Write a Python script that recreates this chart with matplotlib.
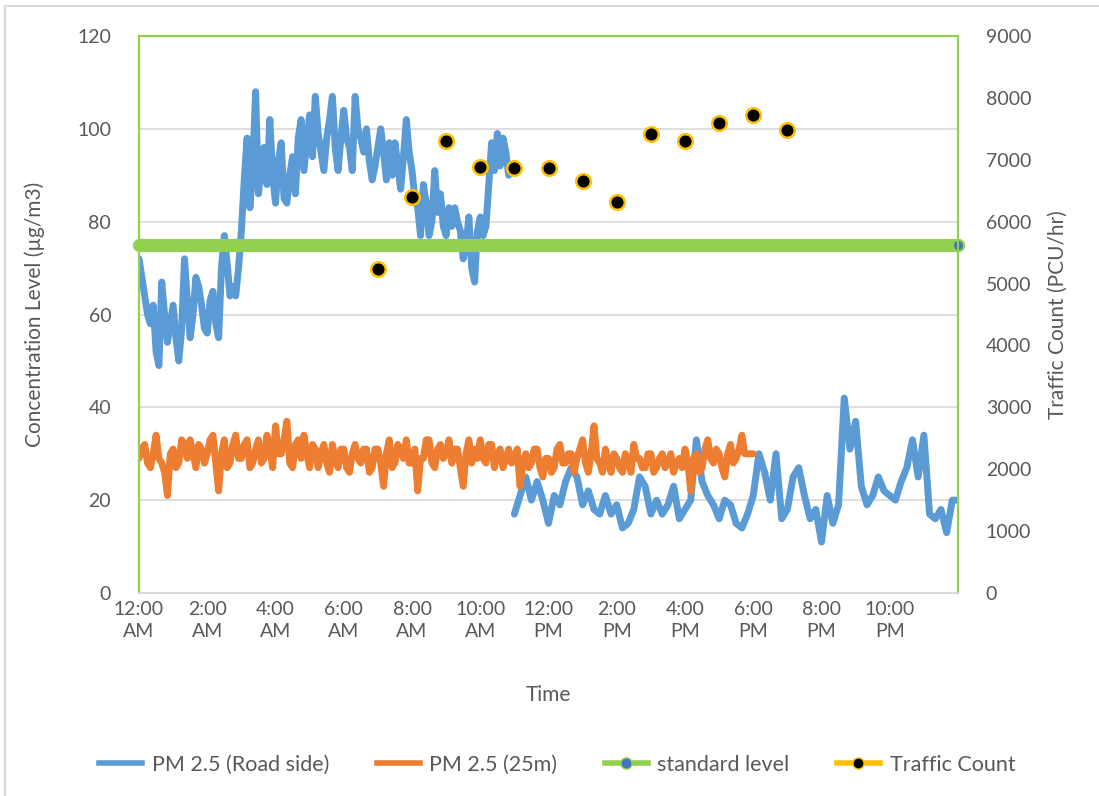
import numpy as np
import matplotlib
matplotlib.use('Agg')
import matplotlib.pyplot as plt
from matplotlib.lines import Line2D

plt.rcParams['font.family'] = ['Lato', 'DejaVu Sans']

# PM 2.5 road side, 5-minute readings from 00:00 to 10:50
road_am = [
    72, 68, 64, 60, 58, 62, 52, 49, 67, 60, 54, 58,
    62, 55, 50, 57, 72, 63, 55, 60, 68, 66, 62, 57,
    56, 63, 65, 58, 55, 70, 77, 71, 64, 66, 64, 70,
    78, 89, 98, 83, 92, 108, 86, 92, 96, 88, 102, 90,
    84, 93, 97, 85, 84, 90, 94, 86, 98, 102, 91, 97,
    103, 94, 107, 99, 95, 91, 98, 102, 107, 96, 91, 98,
    104, 98, 96, 91, 107, 100, 98, 95, 100, 93, 89, 92,
    96, 100, 95, 89, 97, 90, 97, 92, 87, 94, 102, 95,
    91, 85, 83, 77, 88, 84, 77, 80, 91, 82, 86, 79,
    77, 83, 79, 83, 80, 78, 72, 75, 81, 70, 67, 78,
    81, 77, 79, 88, 97, 91, 99, 92, 98, 95, 90,
]
# PM 2.5 road side, 10-minute readings from 11:00 to 24:00
road_pm = [
    17, 21, 25, 20, 24, 20,
    15, 21, 19, 24, 27, 25,
    19, 22, 18, 17, 21, 17,
    19, 14, 15, 18, 25, 23,
    17, 20, 17, 19, 23, 16,
    18, 20, 33, 24, 21, 19,
    16, 20, 19, 15, 14, 17,
    21, 30, 26, 20, 30, 16,
    18, 25, 27, 21, 16, 18,
    11, 21, 15, 19, 42, 31,
    37, 23, 19, 21, 25, 22,
    21, 20, 24, 27, 33, 25,
    34, 17, 16, 18, 13, 20,
    20,
]
# PM 2.5 at 25 m, 5-minute readings from 00:00 to 18:00
pm_25m = [
    29, 31, 32, 28, 27, 30, 34, 29, 28, 26, 21, 30,
    31, 27, 28, 33, 32, 29, 33, 30, 27, 32, 31, 28,
    30, 33, 34, 28, 22, 30, 33, 27, 28, 32, 34, 29,
    29, 32, 33, 27, 28, 31, 33, 28, 29, 34, 31, 27,
    36, 30, 30, 33, 37, 28, 27, 32, 33, 29, 34, 30,
    27, 32, 31, 27, 30, 32, 28, 26, 32, 29, 27, 31,
    31, 27, 26, 30, 32, 29, 28, 31, 31, 26, 27, 31,
    31, 28, 23, 30, 33, 27, 28, 32, 31, 29, 33, 28,
    28, 31, 22, 29, 29, 33, 33, 28, 27, 31, 32, 29,
    30, 33, 28, 31, 31, 27, 23, 30, 33, 28, 31, 29,
    33, 29, 28, 32, 32, 27, 30, 31, 27, 29, 31, 28,
    29, 31, 23, 28, 30, 27, 28, 31, 31, 27, 25, 29,
    29, 26, 27, 31, 32, 28, 28, 30, 30, 26, 29, 31,
    33, 28, 26, 30, 36, 29, 28, 26, 31, 28, 26, 30,
    29, 27, 26, 30, 28, 26, 32, 29, 29, 27, 27, 30,
    30, 26, 27, 29, 30, 27, 28, 30, 26, 28, 29, 27,
    31, 28, 22, 29, 30, 26, 27, 31, 33, 29, 28, 31,
    30, 27, 25, 30, 32, 28, 29, 31, 34, 30, 30, 30,
    30,
]
# hourly traffic counts (PCU/hr)
traffic_hours = [7, 8, 9, 10, 11, 12, 13, 14, 15, 16, 17, 18, 19]
traffic_count = [5230, 6400, 7300, 6880, 6860, 6860, 6650, 6320, 7420, 7310, 7600, 7730, 7480]

standard_hours = [0, 24]
standard_value = [75, 75]

tick_hours = list(range(0, 24, 2))
tick_labels = ['12:00\nAM', '2:00\nAM', '4:00\nAM', '6:00\nAM', '8:00\nAM', '10:00\nAM',
               '12:00\nPM', '2:00\nPM', '4:00\nPM', '6:00\nPM', '8:00\nPM', '10:00\nPM']

t_am = np.arange(len(road_am)) / 12.0
t_pm = 11 + np.arange(len(road_pm)) / 6.0
t_road = np.concatenate([t_am, [10.95], t_pm])
v_road = np.concatenate([road_am, [np.nan], road_pm])
t_25m = np.arange(len(pm_25m)) / 12.0

blue = '#5B9BD5'
orange = '#ED7D31'
green = '#92D050'
gold = '#FFC000'
txt = '#595959'
grid = '#D9D9D9'

fig = plt.figure(figsize=(10.99, 7.96), dpi=100)
ax = fig.add_axes([139 / 1099, 1 - 593 / 796, (958 - 139) / 1099, (593 - 36) / 796])
ax2 = ax.twinx()

ax.plot(t_road, v_road, color=blue, lw=5, solid_joinstyle='round',
        solid_capstyle='round', zorder=3)
ax.plot(t_25m, pm_25m, color=orange, lw=5, solid_joinstyle='round',
        solid_capstyle='round', zorder=4)
ax.plot(standard_hours, standard_value, color=green, lw=9.5, solid_capstyle='round',
        marker='o', markevery=[1], markersize=8, markerfacecolor='#4472C4',
        markeredgecolor=green, markeredgewidth=1.5, clip_on=False, zorder=5)
ax2.plot(traffic_hours, traffic_count, linestyle='none', marker='o', markersize=10.5,
         markerfacecolor='black', markeredgecolor=gold, markeredgewidth=1.8, zorder=6)

ax.set_xlim(0, 24)
ax.set_ylim(0, 120)
ax.set_yticks(range(0, 121, 20))
ax2.set_ylim(0, 9000)
ax2.set_yticks(range(0, 9001, 1000))
ax.set_xticks(tick_hours)
ax.set_xticklabels(tick_labels)

ax.grid(axis='y', color=grid, lw=1.2)
ax.set_axisbelow(True)
for a in (ax, ax2):
    a.tick_params(length=0, labelsize=14, labelcolor=txt)
    for side in ('left', 'right', 'top'):
        a.spines[side].set_color(green)
        a.spines[side].set_linewidth(1.5)
    a.spines['bottom'].set_color(grid)
    a.spines['bottom'].set_linewidth(1.2)
ax.tick_params(axis='y', pad=20)
ax2.tick_params(axis='y', pad=20)
ax.tick_params(axis='x', pad=6)
for lab in ax.get_xticklabels():
    lab.set_linespacing(1.35)

ax.set_xlabel('Time', fontsize=15, color=txt, labelpad=32)
ax.set_ylabel('Concentration Level (µg/m3)', fontsize=15, color=txt, labelpad=23)
ax2.set_ylabel('Traffic Count (PCU/hr)', fontsize=15, color=txt, labelpad=12)

handles = [
    Line2D([], [], color=blue, lw=4),
    Line2D([], [], color=orange, lw=4),
    Line2D([], [], color=green, lw=4, marker='o', markersize=8,
           markerfacecolor='#4472C4', markeredgecolor=green),
    Line2D([], [], color=gold, lw=4, marker='o', markersize=8,
           markerfacecolor='black', markeredgecolor=gold),
]
labels = ['PM 2.5 (Road side)', 'PM 2.5 (25m)', 'standard level', 'Traffic Count']
fig.legend(handles, labels, loc='center', bbox_to_anchor=(0.507, 1 - 765 / 796), ncol=4,
           frameon=False, fontsize=15.5, labelcolor=txt, handlelength=2.0,
           handletextpad=0.45, columnspacing=2.2)

# chart outline
fig.add_artist(Line2D([5 / 1099, 5 / 1099], [0, 1 - 6 / 796], color=grid, lw=1.5))
fig.add_artist(Line2D([5 / 1099, 1], [1 - 6 / 796, 1 - 6 / 796], color=grid, lw=1.5))

fig.savefig('out.png', dpi=100, facecolor='white')
